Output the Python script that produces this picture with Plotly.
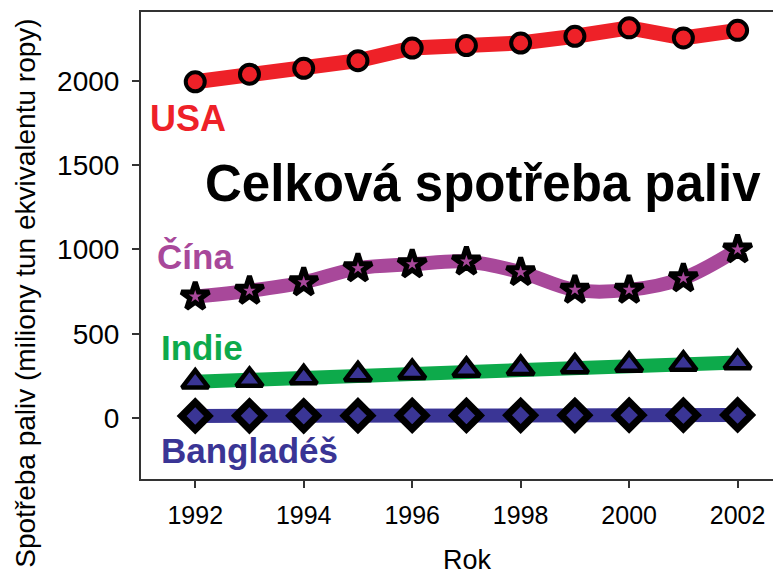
import plotly.graph_objects as go

years = [1992, 1993, 1994, 1995, 1996, 1997, 1998, 1999, 2000, 2001, 2002]
usa = [1995, 2040, 2075, 2120, 2195, 2210, 2225, 2265, 2315, 2255, 2300]
cina = [720, 755, 805, 888, 912, 928, 865, 760, 760, 829, 1000]
indie = [215, 225, 240, 258, 272, 285, 295, 305, 315, 320, 330]
banglades = [12, 13, 13, 14, 15, 15, 16, 16, 17, 17, 18]

x_ticks = [1992, 1994, 1996, 1998, 2000, 2002]
y_ticks = [0, 500, 1000, 1500, 2000]

C_USA = "#EE2128"
C_CINA = "#A8489A"
C_INDIE = "#0DAA4B"
C_BAN = "#3A3595"

fig = go.Figure()
fig.add_trace(go.Scatter(x=years, y=banglades, mode="lines+markers",
                         line=dict(color=C_BAN, width=14),
                         marker=dict(symbol="diamond", size=21, color=C_BAN,
                                     line=dict(color="black", width=7))))
fig.add_trace(go.Scatter(x=years, y=indie, mode="lines+markers",
                         line=dict(color=C_INDIE, width=14),
                         marker=dict(symbol="triangle-up", size=23, color=C_BAN,
                                     line=dict(color="black", width=4.5))))
fig.add_trace(go.Scatter(x=years, y=cina, mode="lines+markers",
                         line=dict(color=C_CINA, width=14, shape="spline"),
                         marker=dict(symbol="star", size=21, color=C_CINA,
                                     line=dict(color="black", width=5))))
fig.add_trace(go.Scatter(x=years, y=usa, mode="lines+markers",
                         line=dict(color=C_USA, width=15),
                         marker=dict(symbol="circle", size=19, color=C_USA,
                                     line=dict(color="black", width=4))))

FONT = "Liberation Sans, Arial, sans-serif"
ann = [
    dict(text="USA", x=1991.13, y=1780, color=C_USA, size=36),
    dict(text="Celková spotřeba paliv", x=1992.15, y=1390, color="black", size=51),
    dict(text="Čína", x=1991.26, y=960, color=C_CINA, size=35),
    dict(text="Indie", x=1991.33, y=421, color=C_INDIE, size=35),
    dict(text="Bangladéš", x=1991.33, y=-190, color=C_BAN, size=35),
]
for a in ann:
    fig.add_annotation(text="<b>%s</b>" % a["text"], x=a["x"], y=a["y"], xref="x", yref="y",
                       xanchor="left", yanchor="middle", showarrow=False,
                       font=dict(family=FONT, size=a["size"], color=a["color"]))

fig.add_annotation(text="Spotřeba paliv (miliony tun ekvivalentu ropy)", textangle=-90,
                   x=-0.181, y=0.397, xref="paper", yref="paper", xanchor="center",
                   yanchor="middle", showarrow=False, font=dict(family=FONT, size=28))
fig.add_annotation(text="Rok", x=0.51, y=-0.173, xref="paper", yref="paper",
                   xanchor="center", yanchor="middle", showarrow=False,
                   font=dict(family=FONT, size=27))

# page body has an 8px margin; the figure is sized so it ends at the window edges
fig.update_layout(
    width=773, height=570,
    margin=dict(l=133, r=0, t=4, b=99, autoexpand=False),
    paper_bgcolor="white", plot_bgcolor="white",
    showlegend=False,
    font=dict(family=FONT, color="black"),
    xaxis=dict(range=[1991.0, 2002.8], tickvals=x_ticks, ticks="outside", ticklen=7,
               tickwidth=2, tickcolor="#333", showline=True, linecolor="#333", linewidth=2,
               mirror=True, showgrid=False, zeroline=False, automargin=False,
               tickfont=dict(size=25), ticklabelstandoff=6),
    yaxis=dict(range=[-362, 2409], tickvals=y_ticks, ticks="outside", ticklen=7,
               tickwidth=2, tickcolor="#333", showline=True, linecolor="#333", linewidth=2,
               mirror=False, showgrid=False, zeroline=False, automargin=False,
               tickfont=dict(size=28), ticklabelstandoff=7),
)

fig.write_html("out.html")
